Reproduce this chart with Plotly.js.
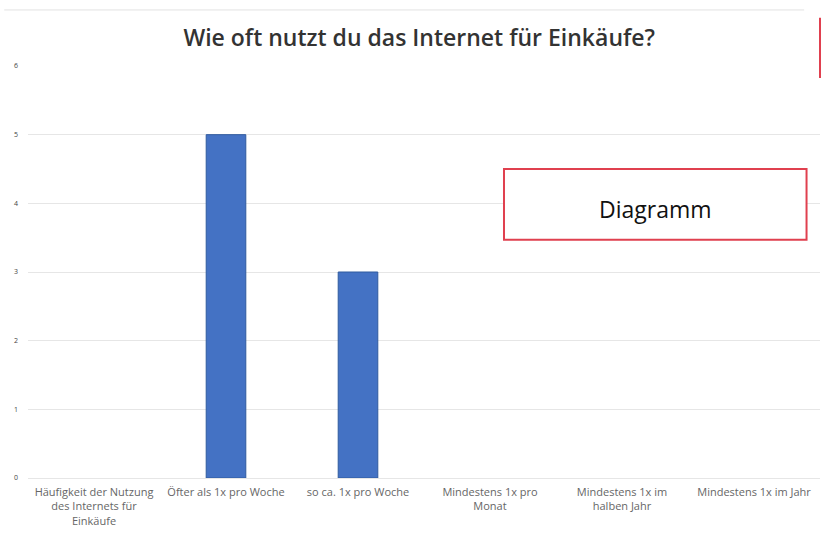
<!DOCTYPE html>
<html>
<head>
<meta charset="utf-8">
<script src="https://cdn.plot.ly/plotly-3.0.1.min.js"></script>
<style>html,body{margin:0;padding:0;background:#fff;}#chart{width:822px;height:535px;}</style>
</head>
<body>
<div id="chart"></div>
<script>
var categories = [
  "Häufigkeit der Nutzung<br>des Internets für<br>Einkäufe",
  "Öfter als 1x pro Woche",
  "so ca. 1x pro Woche",
  "Mindestens 1x pro<br>Monat",
  "Mindestens 1x im<br>halben Jahr",
  "Mindestens 1x im Jahr"
];
var values = [0, 5, 3, 0, 0, 0];
var yTicks = [0, 1, 2, 3, 4, 5, 6];
var chartTitle = "Wie oft nutzt du das Internet für Einkäufe?";
var boxLabel = "Diagramm";

var trace = {
  type: "bar",
  x: categories,
  y: values,
  width: 0.3,
  marker: {color: "#4472c4", line: {color: "#2f5a9e", width: values.map(function(v){return v > 0 ? 1 : 0;})}},
  hoverinfo: "none"
};

var layout = {
  width: 822, height: 535,
  margin: {l: 28, r: 2, t: 66, b: 57},
  paper_bgcolor: "#fff", plot_bgcolor: "#fff",
  showlegend: false,
  title: {
    text: chartTitle,
    font: {family: "Open Sans, sans-serif", size: 23, color: "#333", weight: 600},
    x: 0.51, xanchor: "center", y: 0.93, yanchor: "middle"
  },
  xaxis: {
    type: "category",
    tickfont: {family: "Open Sans, sans-serif", size: 11, color: "#666"},
    showgrid: false, zeroline: false, showline: false, ticks: "",
    tickangle: 0, automargin: false, ticklabelstandoff: 6
  },
  yaxis: {
    range: [0, 6],
    tickvals: yTicks,
    tickfont: {family: "Open Sans, sans-serif", size: 7, color: "#444"},
    showgrid: true, gridcolor: "#e6e6e6", gridwidth: 1,
    zeroline: true, zerolinecolor: "#e6e6e6", zerolinewidth: 1,
    showline: false, ticks: "", ticklabelstandoff: 9, automargin: false
  },
  shapes: [
    {type: "line", xref: "paper", yref: "paper", x0: -0.03, x1: 0.98, y0: 1.136, y1: 1.136,
     line: {color: "#e2e2e2", width: 1}},
    {type: "line", xref: "paper", yref: "paper", x0: 1.0, x1: 1.0, y0: 0.971, y1: 1.117,
     line: {color: "#e0404f", width: 2}},
    {type: "rect", xref: "paper", yref: "paper", x0: 0.601, x1: 0.983, y0: 0.578, y1: 0.750,
     line: {color: "#e0404f", width: 2}, fillcolor: "#fff", layer: "above"}
  ],
  annotations: [
    {xref: "paper", yref: "paper", x: 0.792, y: 0.664, xanchor: "center", yanchor: "middle",
     text: boxLabel, showarrow: false, yshift: -5,
     font: {family: "Open Sans, sans-serif", size: 23, color: "#111"}}
  ]
};

Plotly.newPlot("chart", [trace], layout, {staticPlot: true, displayModeBar: false});
</script>
</body>
</html>
